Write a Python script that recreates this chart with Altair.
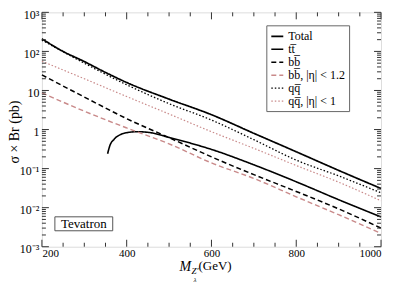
import altair as alt
import pandas as pd

# ---------------- data ----------------
series_names = ["Total", "tt\u0305", "bb\u0305", "bb\u0305, |\u03b7| < 1.2", "qq\u0305", "qq\u0305, |\u03b7| < 1"]

total_m = [200, 250, 300, 350, 400, 500, 600, 700, 800, 900, 1000]
total_v = [210, 100, 55, 29, 16, 6.0, 2.4, 0.8, 0.27, 0.09, 0.031]

tt_m = [355, 360, 370, 385, 400, 425, 450, 500, 550, 600, 700, 800, 900, 1000]
tt_v = [0.24, 0.38, 0.56, 0.74, 0.83, 0.88, 0.85, 0.63, 0.45, 0.31, 0.125, 0.046, 0.016, 0.0058]

bb_m = [200, 300, 400, 500, 600, 700, 800, 900, 1000]
bb_v = [25, 6.8, 1.9, 0.62, 0.2, 0.07, 0.026, 0.0093, 0.003]

bbeta_m = [200, 300, 400, 500, 600, 700, 800, 900, 1000]
bbeta_v = [8.7, 2.95, 1.1, 0.43, 0.14, 0.056, 0.019, 0.0066, 0.0022]

qq_m = [200, 300, 400, 500, 600, 700, 800, 900, 1000]
qq_v = [195, 50, 14, 4.6, 1.75, 0.55, 0.165, 0.065, 0.024]

qqeta_m = [200, 300, 400, 500, 600, 700, 800, 900, 1000]
qqeta_v = [56, 20, 7.0, 2.5, 0.88, 0.33, 0.12, 0.045, 0.015]

x_label_values = [200, 400, 600, 800, 1000]
x_minor_values = [250, 300, 350, 450, 500, 550, 650, 700, 750, 850, 900, 950]
y_label_values = [0.001, 0.01, 0.1, 1, 10, 100, 1000]
y_label_texts = ["10\u207b\u00b3", "10\u207b\u00b2", "10\u207b\u00b9", "1", "10", "10\u00b2", "10\u00b3"]
y_minor_values = [k * m for m in [0.001, 0.01, 0.1, 1, 10, 100] for k in range(2, 10)]

# ---------------- build tables ----------------
rows = []
for name, ms, vs in zip(series_names,
                        [total_m, tt_m, bb_m, bbeta_m, qq_m, qqeta_m],
                        [total_v, tt_v, bb_v, bbeta_v, qq_v, qqeta_v]):
    for i, (m, v) in enumerate(zip(ms, vs)):
        rows.append({"mass": m, "xs": v, "series": name, "order": i})
df = pd.DataFrame(rows)

W, H = 340, 235
FONT = "Liberation Serif, Times New Roman, Times, serif"
BLACK = "#000000"
PINK = "#c98a8a"

xscale = alt.Scale(domain=[200, 1000], nice=False, zero=False)
yscale = alt.Scale(type="log", domain=[0.001, 1000], nice=False)

label_expr = " : ".join(
    f"datum.value < {v * 1.5} ? '{t}'" for v, t in zip(y_label_values, y_label_texts)
) + " : ''"

xaxis = alt.Axis(values=x_label_values, title=None, ticks=False, domain=False, grid=False,
                 labelFont=FONT, labelFontSize=11, labelColor=BLACK, labelPadding=1, format="d")
yaxis = alt.Axis(values=y_label_values, title=None, ticks=False, domain=False, grid=False,
                 labelFont=FONT, labelFontSize=12, labelColor=BLACK, labelPadding=3,
                 labelOffset=2, labelExpr=label_expr)

lines = alt.Chart(df).mark_line(interpolate="monotone").encode(
    x=alt.X("mass:Q", scale=xscale, axis=xaxis),
    y=alt.Y("xs:Q", scale=yscale, axis=yaxis),
    color=alt.Color("series:N", sort=series_names,
                    scale=alt.Scale(domain=series_names, range=[BLACK, BLACK, BLACK, PINK, BLACK, PINK]),
                    legend=alt.Legend(orient="none", legendX=225, legendY=13, title=None,
                                      symbolType="stroke", symbolSize=144, symbolStrokeWidth=1.2,
                                      labelFont=FONT, labelFontSize=12, labelColor=BLACK,
                                      strokeColor="#666666", fillColor="white", padding=4,
                                      rowPadding=0, labelOffset=4)),
    strokeDash=alt.StrokeDash("series:N", sort=series_names,
                              scale=alt.Scale(domain=series_names,
                                              range=[[1, 0], [1, 0], [5, 3], [5, 3], [1.5, 2], [1.5, 2]])),
    strokeWidth=alt.StrokeWidth("series:N",
                                scale=alt.Scale(domain=series_names, range=[1.7, 1.2, 1.2, 1.1, 1.2, 1.1]),
                                legend=None),
    detail="series:N",
    order="order:Q",
)

xmaj = pd.DataFrame({"mass": x_label_values})
xmin = pd.DataFrame({"mass": x_minor_values})
ymaj = pd.DataFrame({"xs": y_label_values})
ymin = pd.DataFrame({"xs": y_minor_values})

TICK = "#333333"

def xticks(d, length):
    X = alt.X("mass:Q", scale=xscale, axis=xaxis)
    b = alt.Chart(d).mark_rule(color=TICK, strokeWidth=1).encode(x=X, y=alt.value(H), y2=alt.value(H - length))
    t = alt.Chart(d).mark_rule(color=TICK, strokeWidth=1).encode(x=X, y=alt.value(0), y2=alt.value(length))
    return [b, t]

def yticks(d, length):
    Y = alt.Y("xs:Q", scale=yscale, axis=yaxis)
    l = alt.Chart(d).mark_rule(color=TICK, strokeWidth=1).encode(y=Y, x=alt.value(0), x2=alt.value(length))
    r = alt.Chart(d).mark_rule(color=TICK, strokeWidth=1).encode(y=Y, x=alt.value(W), x2=alt.value(W - length))
    return [l, r]

tick_layers = xticks(xmaj, 7) + xticks(xmin, 4) + yticks(ymaj, 7) + yticks(ymin, 4)

anno = pd.DataFrame({"a": [0]})

tev_box = alt.Chart(anno).mark_rect(fill="white", stroke="#555555", strokeWidth=1).encode(
    x=alt.value(13), x2=alt.value(71), y=alt.value(205), y2=alt.value(219))
tev_text = alt.Chart(anno).mark_text(text="Tevatron", font=FONT, fontSize=13, color=BLACK,
                                     align="center", baseline="middle").encode(
    x=alt.value(42), y=alt.value(212.5))

ytitle = alt.Chart(anno).mark_text(text="\u03c3 \u00d7 Br (pb)", font=FONT, fontSize=14, color=BLACK,
                                   angle=270, align="center", baseline="middle").encode(
    x=alt.value(-27), y=alt.value(120))

xt_M = alt.Chart(anno).mark_text(text="M", font=FONT, fontSize=14, fontStyle="italic", color=BLACK,
                                 align="left", baseline="alphabetic").encode(x=alt.value(138), y=alt.value(259))
xt_Z = alt.Chart(anno).mark_text(text="Z\u2032", font=FONT, fontSize=9, fontStyle="italic", color=BLACK,
                                 align="left", baseline="alphabetic").encode(x=alt.value(150), y=alt.value(262.5))
xt_L = alt.Chart(anno).mark_text(text="\u03bb", font=FONT, fontSize=7, fontStyle="italic", color=BLACK,
                                 align="left", baseline="alphabetic").encode(x=alt.value(152), y=alt.value(270))
xt_G = alt.Chart(anno).mark_text(text="(GeV)", font=FONT, fontSize=13, color=BLACK,
                                 align="left", baseline="alphabetic").encode(x=alt.value(157), y=alt.value(258))

chart = alt.layer(
    lines, *tick_layers, tev_box, tev_text, ytitle, xt_M, xt_Z, xt_L, xt_G
).properties(
    width=W, height=H,
    autosize=alt.AutoSizeParams(type="none"),
    padding={"left": 34, "top": 4, "right": 6, "bottom": 37},
).configure_view(
    stroke="#444444", strokeWidth=1
).configure(background="white")

chart.save("out.html", embed_options={"renderer": "svg", "actions": False})
